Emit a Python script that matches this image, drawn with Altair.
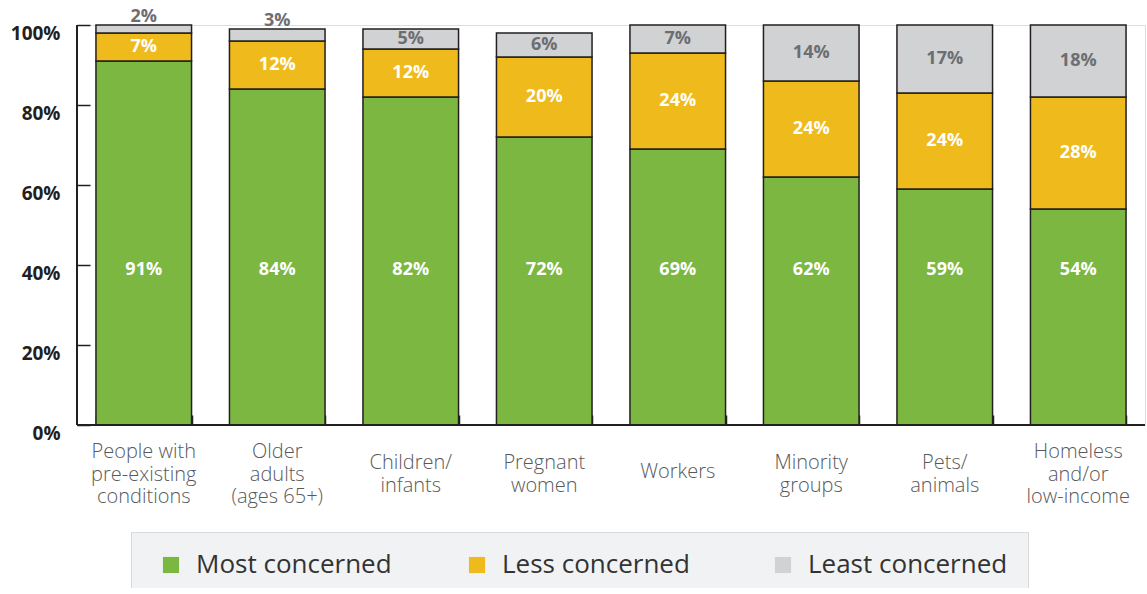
import altair as alt
import pandas as pd

categories = [
    "People with|pre-existing|conditions",
    "Older|adults|(ages 65+)",
    "Children/|infants",
    "Pregnant|women",
    "Workers",
    "Minority|groups",
    "Pets/|animals",
    "Homeless|and/or|low-income",
]
most = [91, 84, 82, 72, 69, 62, 59, 54]
less = [7, 12, 12, 20, 24, 24, 24, 28]
least = [2, 3, 5, 6, 7, 14, 17, 18]
series = ["Most concerned", "Less concerned", "Least concerned"]
colors = ["#7cb742", "#efba1c", "#d1d2d4"]
y_ticks = [0, 20, 40, 60, 80, 100]

rows = []
for i, c in enumerate(categories):
    start = 0
    for k, (s, vals) in enumerate(zip(series, [most, less, least])):
        v = vals[i]
        rows.append({"cat": c, "series": s, "value": v, "order": k,
                     "start": start, "end": start + v, "mid": start + v / 2,
                     "label": f"{v}%"})
        start += v
df = pd.DataFrame(rows)

cat_df = pd.DataFrame({"cat": categories,
                       "nlines": [len(c.split("|")) for c in categories]})

FONT = "Open Sans"
DARK = "#231f20"
W, H = 1068, 400

x_enc = alt.X("cat:N", sort=categories, title=None,
              scale=alt.Scale(paddingInner=0.284, paddingOuter=0.142),
              axis=alt.Axis(labels=False, tickBand="extent", tickSize=10,
                            tickColor=DARK, tickWidth=1.5, offset=-10, domain=False))

y_scale = alt.Scale(domain=[0, 100], nice=False)

bars = alt.Chart(df).mark_bar(stroke=DARK, strokeWidth=1.5).encode(
    x=x_enc,
    y=alt.Y("start:Q", scale=y_scale, title=None,
            axis=alt.Axis(values=y_ticks, labelExpr="datum.value + '%'",
                          labelFont=FONT, labelFontSize=19, labelFontWeight="bold",
                          labelColor=DARK, tickSize=13, tickColor=DARK, tickWidth=1.5,
                          offset=-13, labelPadding=17, labelOffset=8, domain=False,
                          grid=False)),
    y2="end:Q",
    color=alt.Color("series:N", scale=alt.Scale(domain=series, range=colors),
                    legend=alt.Legend(title=None, orient="none", legendX=54, legendY=507,
                                      direction="horizontal", fillColor="#f1f2f4",
                                      strokeColor="#d9dadc", padding=20,
                                      symbolType="square", symbolSize=260,
                                      symbolStrokeWidth=0, symbolOffset=7,
                                      labelFont=FONT, labelFontSize=26,
                                      labelColor="#333333", labelOffset=12,
                                      labelLimit=400, columnPadding=61,
                                      gridAlign="all")),
    order=alt.Order("order:Q"),
)

# category labels, vertically centred under the axis (first-line position by line count)
first_line_y = {3: 427, 2: 438, 1: 447}
cat_layers = []
for n, ypix in first_line_y.items():
    cat_layers.append(
        alt.Chart(cat_df).transform_filter(alt.datum.nlines == n).mark_text(
            font=FONT, fontSize=20, fontWeight=300, color="#58595b",
            lineBreak="|", lineHeight=22.5, baseline="middle", align="center",
        ).encode(x=alt.X("cat:N", sort=categories), y=alt.value(ypix), text="cat:N")
    )

base_text = dict(font=FONT, fontSize=18, fontWeight="bold", baseline="middle")

t_most = alt.Chart(df).transform_filter(alt.datum.series == series[0]).mark_text(
    color="white", **base_text).encode(
    x=alt.X("cat:N", sort=categories), y=alt.value(245), text="label:N")

t_less = alt.Chart(df).transform_filter(alt.datum.series == series[1]).mark_text(
    color="white", **base_text).encode(
    x=alt.X("cat:N", sort=categories), y=alt.Y("mid:Q", title=None), text="label:N")

t_least_in = alt.Chart(df).transform_filter(
    (alt.datum.series == series[2]) & (alt.datum.value >= 4)).mark_text(
    color="#6d6e71", **base_text).encode(
    x=alt.X("cat:N", sort=categories), y=alt.Y("mid:Q", title=None), text="label:N")

t_least_out = alt.Chart(df).transform_filter(
    (alt.datum.series == series[2]) & (alt.datum.value < 4)).mark_text(
    color="#6d6e71", dy=-8, **base_text).encode(
    x=alt.X("cat:N", sort=categories), y=alt.Y("end:Q", title=None), text="label:N")

lines_df = pd.DataFrame({"v0": [0], "v1": [100]})
y_line = alt.Chart(lines_df).mark_rule(color=DARK, strokeWidth=2).encode(
    x=alt.value(0), y=alt.Y("v0:Q", title=None), y2="v1:Q")
base_line = alt.Chart(lines_df).mark_rule(color=DARK, strokeWidth=2).encode(
    x=alt.value(0), x2=alt.value(W), y=alt.Y("v0:Q", title=None))

chart = alt.layer(bars, t_most, t_less, t_least_in, t_least_out, *cat_layers,
                  y_line, base_line).properties(
    width=W, height=H,
    autosize=alt.AutoSizeParams(type="none"),
    padding={"left": 77, "top": 25, "right": 2, "bottom": 163},
).configure_view(stroke=None).configure(background="white")

chart.save("out.html", embed_options={"renderer": "svg", "actions": False})
